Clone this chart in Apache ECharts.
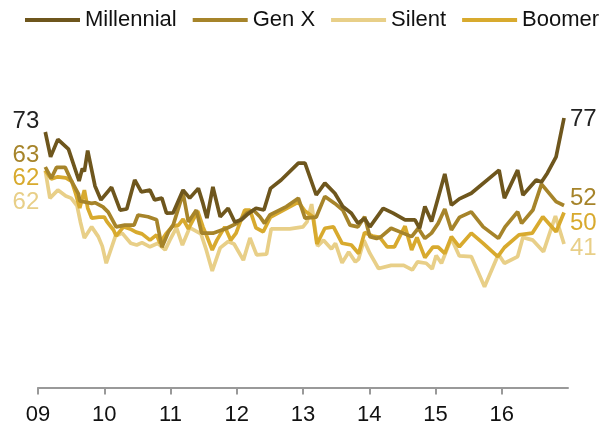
<!DOCTYPE html>
<html><head><meta charset="utf-8">
<script src="https://cdn.jsdelivr.net/npm/echarts@6/dist/echarts.min.js"></script>
<style>html,body{margin:0;padding:0;background:#fff}#c{width:611px;height:430px}</style>
</head><body><div id="c"></div>
<script>
const yearTicks = [2009, 2010, 2011, 2012, 2013, 2014, 2015, 2016];
const tickLabels = ['09', '10', '11', '12', '13', '14', '15', '16'];
const seriesNames = ['Millennial', 'Gen X', 'Silent', 'Boomer'];

const millennial = [[2009.11,73],[2009.19,65.9],[2009.30,70.9],[2009.46,68.1],[2009.62,59],[2009.67,62.6],[2009.70,61.7],[2009.75,67.7],[2009.86,57.6],[2009.95,53.6],[2010.11,57.2],[2010.24,50.7],[2010.34,51],[2010.46,59.3],[2010.56,55.9],[2010.69,56.4],[2010.76,53.6],[2010.87,54.1],[2010.94,49.8],[2011.04,49.9],[2011.19,56.4],[2011.29,54.1],[2011.42,56.9],[2011.49,52.6],[2011.55,48.4],[2011.64,57.3],[2011.75,48.8],[2011.87,51.2],[2011.97,47.3],[2012.07,47.9],[2012.17,49.6],[2012.29,51.2],[2012.41,50.7],[2012.51,56.9],[2012.67,59.3],[2012.93,64.1],[2013.03,64.1],[2013.20,55],[2013.33,58.4],[2013.48,55.5],[2013.60,51.7],[2013.73,49.8],[2013.83,46.9],[2013.93,48.3],[2014.01,45.9],[2014.21,51.2],[2014.36,49.8],[2014.54,47.9],[2014.69,47.9],[2014.76,45.5],[2014.84,51.7],[2014.94,47.4],[2015.14,61],[2015.24,52.1],[2015.36,53.9],[2015.54,55.5],[2015.96,62.1],[2016.04,54.1],[2016.24,62.1],[2016.32,55],[2016.52,59.3],[2016.60,58.7],[2016.69,61.3],[2016.82,65.9],[2016.94,77]];

const genX = [[2009.11,63],[2009.20,59.8],[2009.28,62.9],[2009.41,62.9],[2009.51,58.8],[2009.61,55.3],[2009.63,53.3],[2009.81,52.6],[2009.86,52.8],[2009.98,51.6],[2010.06,50.1],[2010.18,45.9],[2010.31,46.4],[2010.45,46.4],[2010.51,49.3],[2010.66,48.8],[2010.79,47.9],[2010.87,40.1],[2010.97,44.5],[2011.04,46.4],[2011.19,55.5],[2011.27,47.3],[2011.39,50.7],[2011.47,44.1],[2011.64,44.1],[2011.85,45.5],[2012.00,46.9],[2012.15,49.8],[2012.25,50.7],[2012.35,48.8],[2012.42,46.9],[2012.50,49.3],[2012.75,51.7],[2012.93,54.1],[2013.03,48.4],[2013.20,48.7],[2013.33,54.6],[2013.48,52.6],[2013.60,50.7],[2013.71,46.4],[2013.83,45.9],[2013.93,48.8],[2014.01,43.1],[2014.11,42.6],[2014.18,43.1],[2014.33,45.5],[2014.51,44.1],[2014.64,43.1],[2014.74,45.5],[2014.84,42.6],[2014.94,44.1],[2015.04,46.9],[2015.14,51],[2015.24,45],[2015.36,48.6],[2015.54,50.2],[2015.72,45.9],[2015.95,42.6],[2016.05,45.9],[2016.24,50.2],[2016.30,46.9],[2016.47,50.7],[2016.60,58.1],[2016.82,53.1],[2016.94,52]];

const boomer = [[2009.11,62],[2009.20,59.6],[2009.30,60.2],[2009.42,59.9],[2009.51,58.9],[2009.57,55.3],[2009.63,51.3],[2009.70,56.4],[2009.75,51.3],[2009.81,48.4],[2009.92,48.7],[2010.00,48.7],[2010.04,47.4],[2010.14,45],[2010.18,43.3],[2010.29,45.9],[2010.39,45.3],[2010.48,44.4],[2010.57,43.9],[2010.69,42.1],[2010.79,43.6],[2010.84,41.3],[2010.94,44.1],[2011.03,46.1],[2011.12,46.4],[2011.19,48.1],[2011.27,45.3],[2011.41,50.4],[2011.49,45.9],[2011.54,43.6],[2011.63,39.3],[2011.70,42.1],[2011.82,45.9],[2011.91,42.1],[2011.99,44.1],[2012.12,50.7],[2012.20,50.7],[2012.29,45.6],[2012.40,44.5],[2012.51,48.7],[2012.93,53],[2013.03,50.4],[2013.15,48.8],[2013.21,41],[2013.33,45.5],[2013.46,45.9],[2013.59,41.2],[2013.73,40.7],[2013.84,38.3],[2013.93,44.3],[2014.05,43.3],[2014.16,42.9],[2014.27,40.2],[2014.38,40.2],[2014.54,46.1],[2014.64,39.3],[2014.72,42.9],[2014.84,37.1],[2014.96,40.1],[2015.04,40.1],[2015.14,38.3],[2015.24,43.1],[2015.36,40.2],[2015.54,44.1],[2015.72,41.2],[2015.94,37.4],[2016.04,40],[2016.26,43.6],[2016.46,44.1],[2016.62,48.8],[2016.82,44.5],[2016.94,50]];

const silent = [[2009.11,62],[2009.18,54.1],[2009.30,56.4],[2009.42,54.7],[2009.50,54.1],[2009.59,51.9],[2009.64,47.3],[2009.70,42.7],[2009.81,45.9],[2009.91,43.1],[2009.97,40.4],[2010.03,35.5],[2010.17,43.3],[2010.27,44.1],[2010.40,41.2],[2010.49,40.7],[2010.57,41.4],[2010.69,40.2],[2010.81,41.2],[2010.92,39.3],[2010.99,42.1],[2011.09,45.7],[2011.18,40.7],[2011.29,45.7],[2011.46,43.9],[2011.54,39.3],[2011.63,33.3],[2011.75,39.9],[2011.87,41.7],[2011.96,41],[2012.10,36.4],[2012.20,42.7],[2012.30,37.9],[2012.45,38.1],[2012.52,45.3],[2012.80,45.3],[2013.00,45.9],[2013.06,47.3],[2013.13,52.4],[2013.22,40.4],[2013.31,42.1],[2013.43,39.6],[2013.49,41.2],[2013.59,35.6],[2013.69,38.7],[2013.79,35.9],[2013.84,36.7],[2013.92,42.1],[2014.01,38.3],[2014.14,34],[2014.33,34.9],[2014.52,34.9],[2014.65,33.6],[2014.73,35.9],[2014.86,35.5],[2014.95,33.9],[2015.01,37.7],[2015.09,35.5],[2015.24,42.6],[2015.36,37.6],[2015.54,37.4],[2015.74,28.8],[2015.95,38.1],[2016.04,35.5],[2016.24,37.4],[2016.32,42.9],[2016.47,42.1],[2016.63,38.8],[2016.81,49],[2016.94,41]];

const colors = { 'Millennial': '#6e561d', 'Gen X': '#a6842a', 'Silent': '#e8cf88', 'Boomer': '#d8aa2e' };
const labelColor = { 'Millennial': '#222222', 'Gen X': '#a6842a', 'Silent': '#e8cf88', 'Boomer': '#d8aa2e' };
const startOffset = { 'Millennial': -11, 'Gen X': -12, 'Silent': 32, 'Boomer': 8 };
const endOffset = { 'Millennial': 1, 'Gen X': -7, 'Silent': 4, 'Boomer': 11 };
const dataByName = { 'Millennial': millennial, 'Gen X': genX, 'Silent': silent, 'Boomer': boomer };

const FONT = '"Liberation Sans", Arial, sans-serif';

function makeSeries(name, z) {
  const arr = dataByName[name];
  return {
    name: name,
    type: 'line',
    z: z,
    symbol: 'circle',
    symbolSize: 0,
    showSymbol: true,
    lineStyle: { width: 3.7, color: colors[name] },
    itemStyle: { color: colors[name] },
    label: { show: false },
    data: arr.map((p, i) => i === 0 ? {
      value: p,
      label: {
        show: true, position: 'left', distance: 6, offset: [0, startOffset[name]],
        formatter: (pr) => String(Math.round(pr.value[1])),
        color: labelColor[name], fontSize: 24, fontFamily: FONT
      }
    } : p),
    endLabel: {
      show: true, distance: 6, offset: [0, endOffset[name]],
      formatter: (pr) => String(Math.round(pr.value[1])),
      color: labelColor[name], fontSize: 24, fontFamily: FONT
    },
    emphasis: { disabled: true }
  };
}

const chart = echarts.init(document.getElementById('c'), null, { renderer: 'canvas' });
chart.setOption({
  animation: false,
  backgroundColor: '#ffffff',
  legend: {
    data: seriesNames,
    left: 20, top: 4,
    itemWidth: 55, itemHeight: 4, itemGap: 16,
    icon: 'rect',
    textStyle: { fontSize: 22, color: '#111', fontFamily: FONT }
  },
  grid: { left: 38, right: 43, top: 37.5, bottom: 40, containLabel: false },
  xAxis: {
    type: 'value', min: 2009, max: 2017, interval: 1,
    splitLine: { show: false },
    axisLine: { show: true, lineStyle: { color: '#999999', width: 2 } },
    axisTick: { show: true, length: 7, customValues: yearTicks, lineStyle: { color: '#999999', width: 2 } },
    axisLabel: {
      customValues: yearTicks,
      formatter: (v) => tickLabels[yearTicks.indexOf(Math.round(v))] || '',
      fontSize: 22, color: '#111', fontFamily: FONT, margin: 14
    }
  },
  yAxis: {
    type: 'value', min: -0.714, max: 100,
    show: false, splitLine: { show: false }
  },
  series: [
    makeSeries('Silent', 2),
    makeSeries('Boomer', 3),
    makeSeries('Gen X', 4),
    makeSeries('Millennial', 5)
  ]
});
</script>
</body></html>
